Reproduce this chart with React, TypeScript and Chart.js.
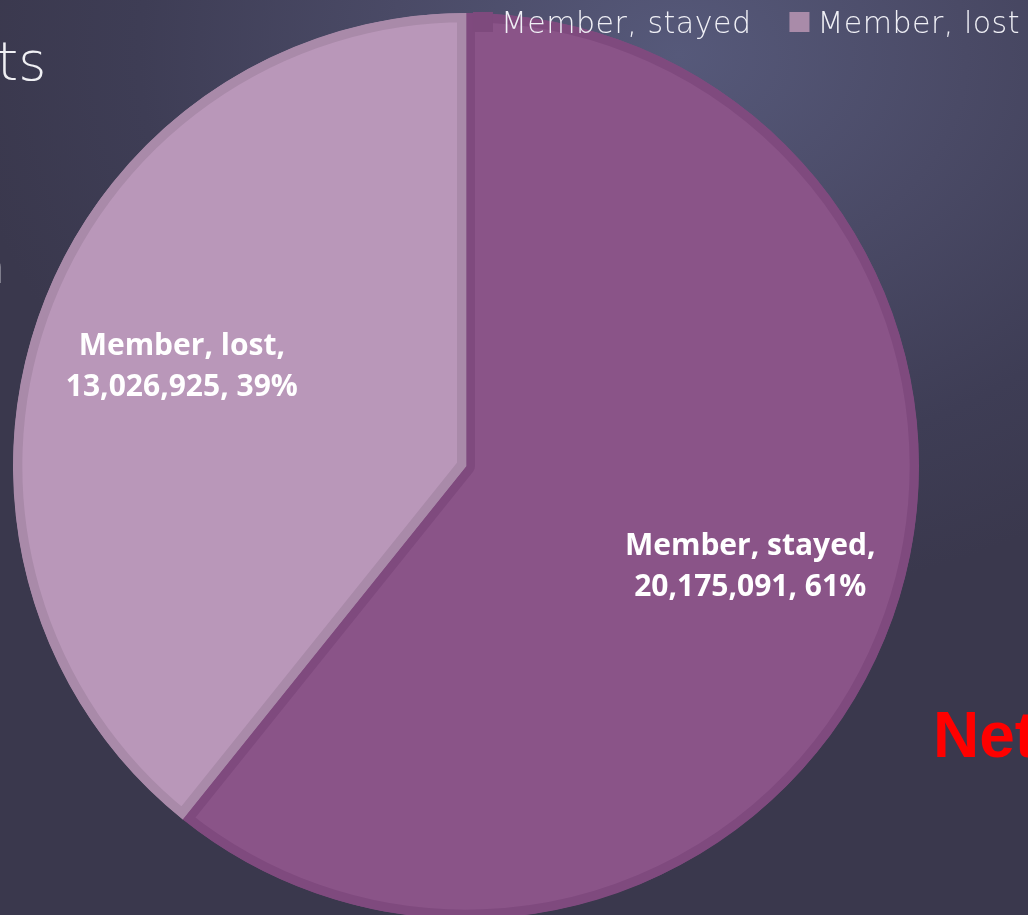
import React, { useEffect, useRef } from "react";
import { Chart, registerables } from "chart.js";

Chart.register(...registerables);

const categories = ["Member, stayed", "Member, lost"];
const values = [20175091, 13026925];
const percents = ["61%", "39%"];
const sliceColors = ["#8a5488", "#b997b9"];
const sliceBorders = ["#7f4a7e", "#a98aa9"];
const legendBoxColors = ["#7e4a7d", "#a98ba9"];

const fmt = (n: number) => n.toLocaleString("en-US");

const labelPlugin = {
  id: "sliceLabels",
  afterDatasetsDraw(chart: any) {
    const ctx = chart.ctx as CanvasRenderingContext2D;
    const meta = chart.getDatasetMeta(0);
    ctx.save();
    ctx.fillStyle = "#ffffff";
    ctx.font = "bold 30px 'Open Sans'";
    ctx.textAlign = "center";
    ctx.textBaseline = "alphabetic";
    meta.data.forEach((arc: any, i: number) => {
      const { x, y, startAngle, endAngle, outerRadius } = arc.getProps(
        ["x", "y", "startAngle", "endAngle", "outerRadius"],
        true
      );
      const mid = (startAngle + endAngle) / 2;
      const r = outerRadius * 0.665;
      const cx = x + Math.cos(mid) * r;
      const cy = y + Math.sin(mid) * r;
      ctx.fillText(categories[i] + ",", cx, cy - 11);
      ctx.fillText(fmt(values[i]) + ", " + percents[i], cx, cy + 30);
    });
    ctx.restore();
  },
};

const legendPlugin = {
  id: "topLegend",
  afterDraw(chart: any) {
    const ctx = chart.ctx as CanvasRenderingContext2D;
    ctx.save();
    ctx.font = "200 30px 'DejaVu Sans'";
    (ctx as any).letterSpacing = "0.5px";
    ctx.textBaseline = "alphabetic";
    ctx.textAlign = "left";
    const right = chart.width - 8;
    const box = 20;
    const boxGap = 8;
    const itemGap = 38;
    let xEnd = right;
    const positions: { bx: number; tx: number }[] = [];
    for (let i = categories.length - 1; i >= 0; i--) {
      const w = ctx.measureText(categories[i]).width;
      const tx = xEnd - w;
      const bx = tx - boxGap - box;
      positions[i] = { bx, tx };
      xEnd = bx - itemGap;
    }
    categories.forEach((c, i) => {
      const p = positions[i];
      ctx.fillStyle = legendBoxColors[i];
      ctx.fillRect(p.bx, 12, box, box);
      ctx.fillStyle = "#f0f0f6";
      ctx.fillText(c, p.tx, 33);
    });
    ctx.restore();
  },
};

export default function App() {
  const ref = useRef<HTMLCanvasElement>(null);
  useEffect(() => {
    document.body.style.margin = "0";
    if (!ref.current) return;
    const chart = new Chart(ref.current, {
      type: "pie",
      data: {
        labels: categories,
        datasets: [
          {
            data: values,
            backgroundColor: sliceColors,
            borderColor: sliceBorders,
            borderWidth: 9,
            borderAlign: "inner",
          } as any,
        ],
      },
      options: {
        responsive: false,
        animation: false,
        layout: { padding: { left: 13, top: 13, right: 109, bottom: 21 } },
        plugins: {
          legend: { display: false },
          tooltip: { enabled: false },
        },
      },
      plugins: [labelPlugin, legendPlugin],
    });
    return () => chart.destroy();
  }, []);

  return (
    <div
      style={{
        position: "fixed",
        left: 0,
        top: 0,
        width: 1028,
        height: 915,
        overflow: "hidden",
        background:
          "radial-gradient(ellipse 70% 60% at 66% 6%, #56597a 0%, #4a4a66 40%, #3e3d55 75%, #3a384d 100%)",
      }}
    >
      <div
        style={{
          position: "absolute",
          left: -3,
          top: 30,
          fontFamily: "'DejaVu Sans'",
          fontWeight: 200,
          fontSize: 54,
          color: "#f0f0f4",
          lineHeight: "64px",
        }}
      >
        ts
      </div>
      <div
        style={{
          position: "absolute",
          left: -26,
          top: 236,
          fontFamily: "'DejaVu Sans'",
          fontWeight: 200,
          fontSize: 50,
          color: "#f0f0f4",
          lineHeight: "60px",
        }}
      >
        n
      </div>
      <div
        style={{
          position: "absolute",
          left: 933,
          top: 699,
          fontFamily: "'Liberation Sans', Arial",
          fontWeight: 700,
          fontSize: 64,
          color: "#ff0000",
          lineHeight: "72px",
          whiteSpace: "nowrap",
        }}
      >
        Net
      </div>
      <canvas
        ref={ref}
        width={1028}
        height={940}
        style={{ position: "absolute", left: 0, top: 0, display: "block" }}
      />
    </div>
  );
}
